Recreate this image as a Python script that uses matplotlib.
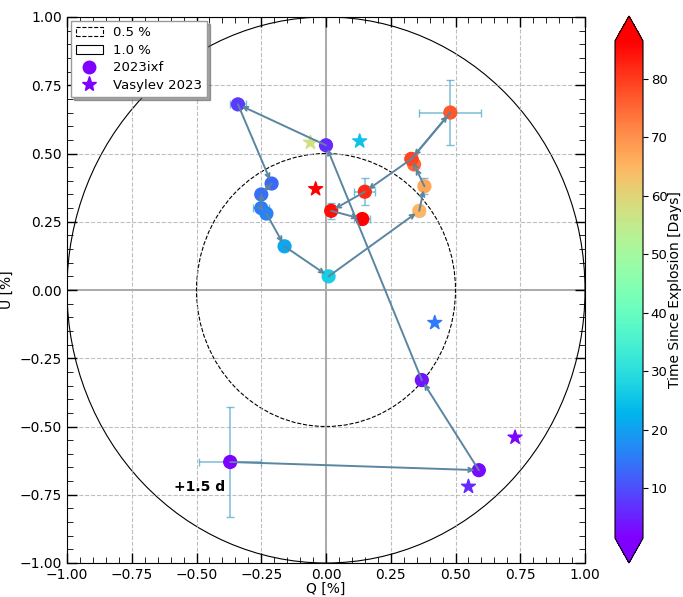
import matplotlib.pyplot as plt
import numpy as np
from matplotlib.patches import Circle
from matplotlib.ticker import AutoMinorLocator, MultipleLocator
from matplotlib.colors import Normalize
from matplotlib.lines import Line2D


# 2023ixf epochs (chronological)
days = [1.5, 2.5, 3.5, 6.0, 8.0, 13.0, 14.0, 15.0, 16.0, 21.0, 27.0,
        65.0, 67.0, 75.0, 78.0, 77.0, 79.0, 82.0, 85.0, 87.0]
q = [-0.37, 0.59, 0.37, 0.00, -0.34, -0.21, -0.25, -0.25, -0.23, -0.16, 0.01,
     0.36, 0.38, 0.34, 0.33, 0.48, 0.33, 0.15, 0.02, 0.14]
u = [-0.63, -0.66, -0.33, 0.53, 0.68, 0.39, 0.35, 0.30, 0.28, 0.16, 0.05,
     0.29, 0.38, 0.46, 0.48, 0.65, 0.48, 0.36, 0.29, 0.26]
q_err = [0.12, 0.01, 0.01, 0.01, 0.03, 0.01, 0.01, 0.03, 0.01, 0.01, 0.01,
         0.02, 0.01, 0.01, 0.01, 0.12, 0.01, 0.04, 0.01, 0.03]
u_err = [0.20, 0.01, 0.01, 0.01, 0.01, 0.01, 0.01, 0.01, 0.01, 0.01, 0.01,
         0.02, 0.03, 0.01, 0.01, 0.12, 0.01, 0.05, 0.03, 0.02]

# Vasylev 2023 measurements
v_days = [2.0, 6.0, 15.0, 25.0, 57.0, 88.0]
v_q = [0.73, 0.55, 0.42, 0.13, -0.06, -0.04]
v_u = [-0.54, -0.72, -0.12, 0.545, 0.54, 0.37]

cmap = plt.get_cmap('rainbow')
norm = Normalize(vmin=1.5, vmax=86.5)
path_color = '#5a86a0'

fig = plt.figure(figsize=(6.83, 5.97), dpi=100)
ax = fig.add_axes([67/683, 34/597, 518/683, 546/597])
cax = fig.add_axes([615/683, 34/597, 28/683, 547/597])

ax.grid(color='#b0b0b0', linestyle='--', linewidth=0.8, alpha=0.8)
ax.axhline(0, color='#a8a8a8', lw=1.4, zorder=1)
ax.axvline(0, color='#a8a8a8', lw=1.4, zorder=1)

ax.add_patch(Circle((0, 0), 0.5, fill=False, ls='--', lw=0.8, ec='k', label='0.5 %'))
ax.add_patch(Circle((0, 0), 1.0, fill=False, ls='-', lw=0.8, ec='k', label='1.0 %'))

ax.errorbar(q, u, xerr=q_err, yerr=u_err, fmt='none', ecolor='#4fa8cc',
            alpha=0.75, elinewidth=1.1, capsize=3, zorder=2)
ax.scatter(q, u, c=days, cmap=cmap, norm=norm, s=85, zorder=3)

# path between consecutive epochs
for i in range(len(q) - 1):
    ax.annotate('', xy=(q[i+1], u[i+1]), xytext=(q[i], u[i]),
                arrowprops=dict(arrowstyle='->, head_length=0.3, head_width=0.15',
                                color=path_color, lw=1.4, shrinkA=0, shrinkB=3),
                zorder=4)

ax.scatter(v_q, v_u, c=v_days, cmap=cmap, norm=norm, marker='*', s=110, zorder=3)

ax.text(-0.49, -0.72, '+1.5 d', fontsize=10, fontweight='bold', ha='center', va='center')

ax.set_xlim(-1, 1)
ax.set_ylim(-1, 1)
ax.xaxis.set_major_locator(MultipleLocator(0.25))
ax.yaxis.set_major_locator(MultipleLocator(0.25))
ax.xaxis.set_minor_locator(AutoMinorLocator(5))
ax.yaxis.set_minor_locator(AutoMinorLocator(5))
ax.tick_params(which='both', direction='in', top=True, right=True)
ax.tick_params(which='major', length=7, width=1)
ax.tick_params(which='minor', length=4)
ax.set_xlabel('Q [%]', fontsize=10, labelpad=0)
ax.set_ylabel('U [%]', fontsize=10)

handles = [
    plt.Rectangle((0, 0), 1, 1, fill=False, ls='--', lw=0.8, ec='k'),
    plt.Rectangle((0, 0), 1, 1, fill=False, ls='-', lw=0.8, ec='k'),
    Line2D([], [], ls='none', marker='o', ms=9, color=cmap(0.0)),
    Line2D([], [], ls='none', marker='*', ms=11, color=cmap(0.0)),
]
ax.legend(handles, ['0.5 %', '1.0 %', '2023ixf', 'Vasylev 2023'], loc='upper left',
          fontsize=9.5, shadow=True, fancybox=False, framealpha=1, edgecolor='#999999',
          borderaxespad=0.3, handletextpad=0.8, labelspacing=0.35)

sm = plt.cm.ScalarMappable(norm=norm, cmap=cmap)
cb = fig.colorbar(sm, cax=cax, extend='both')
cb.set_ticks([10, 20, 30, 40, 50, 60, 70, 80])
cb.ax.tick_params(labelsize=9.5, pad=2)
cb.set_label('Time Since Explosion [Days]', fontsize=10, labelpad=0)

fig.savefig('out.png', dpi=100)
